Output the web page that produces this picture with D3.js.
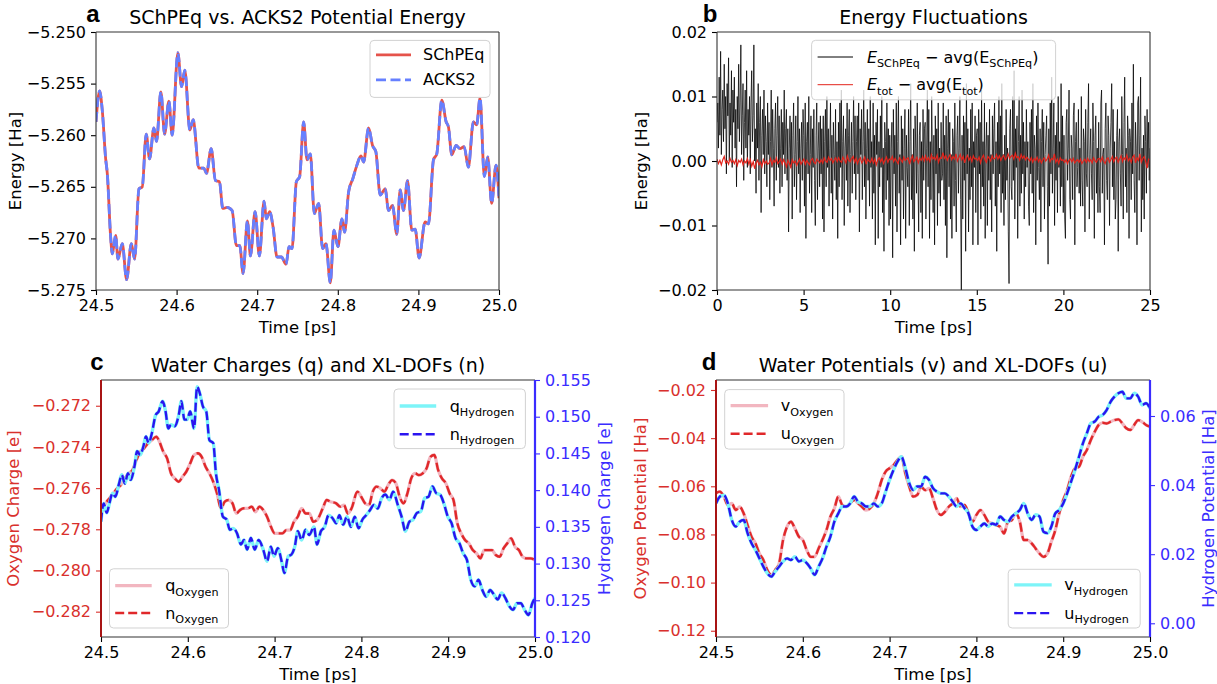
<!DOCTYPE html>
<html>
<head>
<meta charset="utf-8">
<script src="https://cdn.jsdelivr.net/npm/d3@7"></script>
<style>
  body { margin: 0; background: #fff; }
  svg { font-family: "DejaVu Sans", sans-serif; }
</style>
</head>
<body>
<script>
// ---- data: panel a (potential energy, Ha) ----
const timeA = [24.5,24.5045,24.5078,24.512,24.514,24.5182,24.5202,24.5244,24.5272,24.5326,24.538,24.5438,24.5479,24.5533,24.5574,24.5623,24.5665,24.5718,24.5751,24.5805,24.5851,24.5904,24.5945,24.6016,24.6061,24.6102,24.6164,24.6206,24.6276,24.6338,24.6371,24.6429,24.6482,24.6532,24.6573,24.6627,24.6689,24.6742,24.6784,24.6825,24.6879,24.6916,24.6974,24.7027,24.7085,24.7114,24.7155,24.7197,24.7246,24.73,24.7358,24.7395,24.7432,24.7486,24.7527,24.7576,24.7618,24.7659,24.7709,24.7762,24.7812,24.7853,24.7907,24.7952,24.8002,24.8051,24.8084,24.8134,24.8187,24.8237,24.8287,24.832,24.8382,24.8431,24.8472,24.8526,24.8588,24.8629,24.8679,24.8732,24.8774,24.8815,24.8865,24.8918,24.896,24.9009,24.9083,24.9125,24.9187,24.9228,24.929,24.9344,24.9373,24.9414,24.9468,24.9517,24.9567,24.962,24.9682,24.9723,24.9765,24.9818,24.986,24.9909,24.9963,25.0];
const energySChPEq = [-5.2587,-5.2557,-5.2576,-5.2623,-5.2637,-5.2699,-5.2715,-5.2697,-5.272,-5.2705,-5.274,-5.2705,-5.272,-5.2652,-5.265,-5.2599,-5.2623,-5.2593,-5.2606,-5.2558,-5.2599,-5.2567,-5.26,-5.252,-5.2553,-5.2537,-5.2595,-5.2585,-5.2632,-5.2632,-5.2637,-5.2613,-5.2644,-5.2645,-5.2671,-5.267,-5.2673,-5.2707,-5.2707,-5.2734,-5.2683,-5.2717,-5.2674,-5.2717,-5.2664,-5.2681,-5.2674,-5.2689,-5.2718,-5.2718,-5.2725,-5.2708,-5.271,-5.2645,-5.264,-5.2587,-5.2624,-5.2618,-5.2676,-5.2666,-5.271,-5.2705,-5.2743,-5.2692,-5.2708,-5.2681,-5.2694,-5.2655,-5.2642,-5.2629,-5.262,-5.2626,-5.2593,-5.261,-5.2616,-5.2658,-5.2652,-5.2673,-5.2668,-5.2696,-5.2653,-5.2673,-5.2644,-5.2692,-5.2691,-5.2719,-5.2684,-5.2686,-5.2624,-5.2618,-5.2566,-5.2587,-5.2592,-5.2619,-5.261,-5.2613,-5.2611,-5.2631,-5.2587,-5.259,-5.2564,-5.264,-5.2621,-5.2666,-5.2629,-5.2661];
const energyACKS2 = energySChPEq; // the two curves coincide in the figure
const ticksXA = [24.5, 24.6, 24.7, 24.8, 24.9, 25.0];
const ticksYA = [-5.250, -5.255, -5.260, -5.265, -5.270, -5.275];

// ---- data: panel b (fluctuations in mHa, evenly spaced over 0-25 ps) ----
const fluctSChPEq = [
  6,9,2,13,4,17,1,8,11,3,15,5,10,-2,12,7,16,0,9,4,14,-1,11,6,
  13,2,8,-4,10,5,15,3,9,18,1,7,12,-3,6,11,2,14,-1,8,4,10,-2,9,
  14,3,7,18,0,5,-5,9,2,12,-3,6,10,-8,4,8,1,11,-2,7,3,-4,9,1,
  6,-6,3,11,-1,8,2,-7,5,9,-3,4,10,-1,7,-5,2,8,-4,6,1,11,-2,5,
  8,-3,5,-11,2,7,-1,6,-9,4,9,-4,1,7,-6,3,10,-2,5,-8,2,6,-3,8,
  4,-7,9,-12,3,6,-2,10,-5,1,7,-8,5,-1,8,-3,-10,4,9,-6,2,6,-4,7,
  -2,5,-9,7,-11,3,8,-4,10,-1,5,-7,2,9,-5,4,-9,6,1,-3,8,-6,3,-12,
  6,-4,9,-1,11,-6,3,7,-10,2,5,-3,9,-7,4,8,-8,1,6,-5,3,10,-2,7,
  -6,3,7,-2,9,-11,5,1,8,-6,3,11,-4,6,-9,2,8,-3,5,-7,10,-1,3,-9,
  9,-5,4,-13,6,1,8,-12,3,-4,7,-1,10,-8,2,-14,6,3,-6,9,-3,5,-10,4,
  -9,2,6,-15,8,-2,4,-7,9,-11,3,10,-5,1,-13,7,-3,5,-9,2,8,-12,4,-1,
  -4,8,-10,3,12,-6,1,-9,5,-14,7,2,-5,9,-2,-11,4,6,-8,3,-12,8,-3,5,
  6,-9,2,11,-4,8,-12,3,-6,10,1,-8,4,-13,7,-2,5,-10,9,-5,2,-7,6,-3,
  -2,9,-6,4,-10,7,-15,2,8,-4,6,-9,1,-12,5,3,-7,9,-3,-11,4,7,-5,2,
  10,-6,-20,4,-9,7,-3,6,-14,12,-2,5,-11,2,-6,8,-4,9,-13,3,-1,7,-8,4,
  5,-13,8,-2,6,-9,11,-4,3,-7,9,-12,2,6,-10,4,-3,8,-6,1,-11,7,-2,5,
  9,-7,3,-14,6,-4,10,-2,7,-8,12,-5,1,-10,4,-6,8,-3,2,-11,-19,5,8,-4,
  -6,10,-3,14,-9,5,-1,7,-12,3,10,-7,4,-5,11,-2,6,-9,3,-4,8,-1,3,-7,
  -10,6,-2,8,-5,12,-8,4,2,-13,7,-3,9,-1,-6,5,-11,3,8,-4,6,-9,1,4,
  7,-4,-16,5,-7,9,-2,13,-5,2,9,-10,4,-3,6,-8,10,-1,3,-7,12,-4,7,-8,
  4,-9,-12,6,8,-3,2,11,-6,-9,4,2,-6,7,9,-13,3,6,-4,-1,8,-5,2,-7,
  10,-3,-7,5,3,-11,8,-2,-4,6,12,-9,1,5,-2,-6,9,3,-12,4,7,-5,2,-8,
  6,-4,-8,9,11,-5,1,2,-13,5,9,-3,-6,7,4,-10,2,6,12,-4,8,-6,3,-9,
  -6,4,8,-14,3,5,-2,-7,10,1,-9,6,13,-4,2,-8,7,4,-12,5,3,-6,9,-2,
  15,-3,-8,6,2,-13,9,10,-3,4,13,-11,2,-6,4,-9,7,3,-5,8,-1,6,-3,2
];
const fluctTotal = [
  0.3,-0.4,0.1,-0.6,0.2,0.7,-0.3,0.0,-0.5,0.4,-0.2,0.1,
  -0.4,0.2,-0.7,0.1,-0.2,0.3,-0.6,0.0,-0.3,0.4,-0.5,0.2,
  -0.8,-0.1,-1.2,-0.3,0.1,-0.6,-0.2,-0.9,0.2,-0.4,0.0,-0.5,
  -0.3,0.4,-0.6,0.1,-0.2,0.5,-0.4,-0.1,0.3,-0.5,0.2,-0.3,
  -0.9,0.1,-0.4,-1.0,0.2,-0.3,0.0,-0.7,-0.2,0.3,-0.5,-0.1,
  0.3,-0.5,0.1,-0.3,-0.6,0.2,0.4,-0.2,-0.4,0.3,0.0,-0.3,
  0.2,-0.3,0.5,0.0,-0.2,0.6,0.1,0.4,-0.3,0.2,0.5,-0.1,
  0.5,0.0,-0.2,0.6,0.2,-0.3,0.8,0.1,-0.1,0.4,0.7,-0.2,
  0.4,-0.4,0.2,0.5,-0.3,0.1,0.6,-0.5,0.3,0.0,-0.2,0.4,
  -0.3,0.3,-0.6,0.2,0.5,-0.1,0.4,-0.4,0.1,0.6,-0.2,0.3,
  0.2,0.7,-0.1,0.4,0.0,-0.4,0.5,0.2,-0.2,0.6,0.1,0.3,
  0.5,-0.5,0.3,0.8,-0.1,0.2,0.6,-0.3,0.4,0.1,0.7,0.0,
  0.8,0.1,0.5,-0.1,1.0,0.3,0.6,0.2,0.9,-0.2,0.5,0.4,
  1.3,0.4,0.8,0.1,0.6,1.0,0.2,0.7,0.3,1.1,0.0,0.5,
  1.0,0.2,0.7,-0.3,0.5,0.9,0.1,0.6,-0.1,0.8,0.3,0.4,
  0.1,0.6,-0.3,0.5,0.9,0.2,-0.2,0.7,0.4,0.0,0.8,0.3,
  0.4,1.0,0.3,0.8,0.1,0.6,0.9,0.2,0.5,1.1,0.4,0.7,
  0.9,0.3,1.2,0.5,0.7,0.1,1.0,0.4,0.8,0.2,0.6,0.3,
  0.0,0.5,-0.2,0.4,0.1,0.6,-0.1,0.3,-0.3,0.2,0.5,0.0,
  0.3,0.9,-0.1,0.4,0.2,1.1,-0.2,0.3,-0.4,0.5,0.1,0.2,
  -0.2,0.2,-0.4,0.1,0.3,-0.1,0.4,-0.3,0.0,0.2,-0.2,0.3,
  -0.4,0.0,0.3,-0.2,0.4,-0.1,0.2,-0.3,0.5,0.1,-0.2,0.3,
  0.4,-0.1,0.6,0.0,-0.4,0.3,0.5,-0.2,0.2,0.7,-0.1,0.4,
  0.6,-0.2,0.3,0.8,-0.1,0.5,0.2,0.9,0.0,0.4,-0.2,0.6,
  0.9,-0.3,0.5,0.1,1.1,-0.2,0.4,0.7,-0.1,-1.1,0.3,0.2
];
const ticksXB = [0, 5, 10, 15, 20, 25];
const ticksYB = [-0.02, -0.01, 0.00, 0.01, 0.02];

// ---- data: panel c (charges, e) ----
const timeCH = [24.5,24.5031,24.5066,24.5097,24.5133,24.5164,24.5208,24.5239,24.5275,24.531,24.5341,24.5385,24.5416,24.5452,24.5487,24.5518,24.5549,24.5585,24.5629,24.5664,24.5709,24.5744,24.5775,24.5806,24.585,24.5895,24.5926,24.5961,24.5992,24.6027,24.6072,24.6107,24.6138,24.6174,24.6213,24.6249,24.6293,24.6324,24.636,24.6404,24.6448,24.6484,24.6523,24.6568,24.6612,24.6647,24.6683,24.6727,24.6771,24.6816,24.6869,24.6913,24.6957,24.6993,24.7037,24.7081,24.7112,24.7157,24.7192,24.7232,24.7267,24.7312,24.7356,24.74,24.7453,24.7489,24.7533,24.7577,24.7622,24.7666,24.771,24.7746,24.779,24.7834,24.7879,24.7923,24.7967,24.8012,24.8056,24.81,24.8144,24.8189,24.8233,24.8277,24.8322,24.8366,24.8419,24.8463,24.8508,24.8552,24.8596,24.864,24.8685,24.8729,24.8773,24.8818,24.8862,24.8906,24.895,24.8995,24.9039,24.9083,24.9128,24.9172,24.9216,24.926,24.9305,24.9349,24.9393,24.9438,24.9482,24.9526,24.957,24.9615,24.9659,24.9703,24.9748,24.9792,24.9836,24.988,24.9925,24.9969,25.0];
const nHydrogen = [0.1357,0.1382,0.1369,0.1382,0.1396,0.1391,0.1409,0.1421,0.1409,0.1423,0.1414,0.1432,0.1453,0.1448,0.1459,0.1473,0.1464,0.1477,0.1502,0.1507,0.1521,0.1507,0.1484,0.1489,0.1487,0.1502,0.1521,0.1496,0.1496,0.1507,0.1484,0.1541,0.1532,0.1514,0.1507,0.1468,0.1464,0.1423,0.14,0.1364,0.136,0.1346,0.1348,0.1341,0.1326,0.1332,0.1319,0.1335,0.1319,0.1332,0.1319,0.1303,0.1323,0.131,0.1321,0.1303,0.1287,0.131,0.1312,0.1323,0.1344,0.1332,0.1346,0.1339,0.135,0.1326,0.1344,0.135,0.1366,0.1362,0.1355,0.1366,0.1353,0.1364,0.135,0.1364,0.1348,0.136,0.1366,0.1373,0.138,0.1375,0.1389,0.1394,0.1387,0.1398,0.138,0.1364,0.1344,0.1357,0.136,0.1369,0.1371,0.1389,0.1391,0.1405,0.1396,0.1394,0.1382,0.1364,0.1355,0.1335,0.1328,0.1314,0.1305,0.1278,0.1269,0.1278,0.1264,0.1255,0.1264,0.1258,0.1251,0.126,0.1253,0.1242,0.1237,0.1246,0.1246,0.1237,0.123,0.1246,0.1253];
const qHydrogen = nHydrogen;
const timeCO = [24.5,24.5053,24.5097,24.5142,24.5186,24.523,24.5275,24.5319,24.5363,24.5408,24.5452,24.5496,24.554,24.5585,24.5638,24.5673,24.5717,24.5762,24.5806,24.585,24.5895,24.5939,24.5983,24.6027,24.6072,24.6116,24.616,24.6205,24.6249,24.6293,24.6337,24.6382,24.6426,24.647,24.6515,24.6559,24.6603,24.6647,24.6692,24.6736,24.678,24.6825,24.6869,24.6913,24.6957,24.7002,24.7046,24.709,24.7135,24.7179,24.7223,24.7267,24.7312,24.7356,24.74,24.7445,24.7489,24.7555,24.76,24.7644,24.771,24.7755,24.7799,24.7843,24.7887,24.7954,24.7998,24.8043,24.8087,24.8131,24.8175,24.822,24.8264,24.8308,24.8353,24.8397,24.8441,24.8485,24.853,24.8574,24.8618,24.8663,24.8707,24.8751,24.8795,24.884,24.8884,24.8928,24.8973,24.9017,24.9061,24.9105,24.915,24.9194,24.9238,24.9283,24.9327,24.9371,24.9415,24.946,24.9504,24.9548,24.9593,24.9637,24.9681,24.9725,24.977,24.9814,24.9858,24.9903,24.9947,25.0];
const nOxygen = [-0.27723,-0.27674,-0.2765,-0.27626,-0.27601,-0.27585,-0.27553,-0.27528,-0.27512,-0.27464,-0.27423,-0.27407,-0.27383,-0.27367,-0.2735,-0.27375,-0.27423,-0.27456,-0.27528,-0.27553,-0.27569,-0.27545,-0.2752,-0.2748,-0.27439,-0.27431,-0.27448,-0.27496,-0.27528,-0.27569,-0.27626,-0.27698,-0.27666,-0.27658,-0.27674,-0.27723,-0.27706,-0.27698,-0.27698,-0.2769,-0.27715,-0.2769,-0.27706,-0.27739,-0.27787,-0.2782,-0.2782,-0.2782,-0.27804,-0.27804,-0.27763,-0.27739,-0.27698,-0.27723,-0.27723,-0.27763,-0.27755,-0.27698,-0.27658,-0.27666,-0.27674,-0.2769,-0.27682,-0.27723,-0.27698,-0.27617,-0.27642,-0.27674,-0.27682,-0.27617,-0.27593,-0.27601,-0.27617,-0.27585,-0.27561,-0.27577,-0.27642,-0.27674,-0.27626,-0.27553,-0.27528,-0.27537,-0.27528,-0.27504,-0.27448,-0.27439,-0.27512,-0.27553,-0.27577,-0.27626,-0.27658,-0.27771,-0.2782,-0.27852,-0.27868,-0.27901,-0.27917,-0.27941,-0.27901,-0.27901,-0.27901,-0.27925,-0.27933,-0.27893,-0.27868,-0.27844,-0.27885,-0.27901,-0.27933,-0.27941,-0.27941,-0.27949];
const qOxygen = nOxygen;
const ticksXC = [24.5, 24.6, 24.7, 24.8, 24.9, 25.0];
const ticksOxC = [-0.272, -0.274, -0.276, -0.278, -0.280, -0.282];
const ticksHyC = [0.120, 0.125, 0.130, 0.135, 0.140, 0.145, 0.150, 0.155];

// ---- data: panel d (potentials, Ha, evenly spaced 24.5-25.0 ps) ----
const uHydrogen = [0.0347,0.0367,0.0371,0.0347,0.0299,0.028,0.0294,0.0299,0.0261,0.0232,0.0212,0.0188,0.0164,0.0145,0.0135,0.015,0.0164,0.0179,0.0188,0.0183,0.0193,0.0179,0.0183,0.0174,0.0159,0.014,0.0164,0.0188,0.0222,0.0251,0.0294,0.0318,0.0338,0.0338,0.0347,0.0367,0.0352,0.0347,0.0338,0.0338,0.0347,0.0338,0.0347,0.0381,0.0415,0.0444,0.0468,0.0482,0.0449,0.0405,0.0386,0.0396,0.0396,0.0424,0.0415,0.0391,0.0381,0.0376,0.0376,0.0367,0.0352,0.0338,0.0347,0.0333,0.0318,0.028,0.027,0.028,0.0289,0.028,0.0289,0.0285,0.0309,0.0299,0.0294,0.0309,0.0318,0.0328,0.0347,0.0318,0.0299,0.0314,0.0309,0.0265,0.0261,0.028,0.0318,0.0328,0.0347,0.0376,0.041,0.0444,0.0482,0.0521,0.055,0.0579,0.0584,0.0598,0.0603,0.0617,0.0641,0.0656,0.0666,0.067,0.0651,0.0651,0.0666,0.0656,0.0632,0.0637,0.0622];
const vHydrogen = uHydrogen;
const uOxygen = [-0.0629,-0.0622,-0.0643,-0.0678,-0.0671,-0.0699,-0.0685,-0.0712,-0.0761,-0.0809,-0.0837,-0.0879,-0.0906,-0.0948,-0.0969,-0.0948,-0.092,-0.0823,-0.0768,-0.0747,-0.0775,-0.0809,-0.0823,-0.0865,-0.0893,-0.0893,-0.0858,-0.0823,-0.0782,-0.0726,-0.0692,-0.0643,-0.0678,-0.0685,-0.0671,-0.0657,-0.0671,-0.0685,-0.0699,-0.0692,-0.0671,-0.0629,-0.0574,-0.0539,-0.0525,-0.0512,-0.0491,-0.0477,-0.0546,-0.0602,-0.0643,-0.0636,-0.0602,-0.0616,-0.0609,-0.065,-0.0699,-0.0719,-0.0706,-0.0685,-0.0671,-0.065,-0.0685,-0.0678,-0.0712,-0.0747,-0.0719,-0.0699,-0.0719,-0.0747,-0.0754,-0.0761,-0.0768,-0.0796,-0.0747,-0.074,-0.0712,-0.0747,-0.0823,-0.0823,-0.0837,-0.0858,-0.0879,-0.0893,-0.0879,-0.083,-0.0782,-0.0712,-0.0657,-0.0616,-0.056,-0.0525,-0.0519,-0.0477,-0.0449,-0.0408,-0.0373,-0.0345,-0.0336,-0.0339,-0.0332,-0.0325,-0.0322,-0.0339,-0.0359,-0.0366,-0.0345,-0.0325,-0.0332,-0.0345,-0.0352];
const vOxygen = uOxygen;
const ticksXD = [24.5, 24.6, 24.7, 24.8, 24.9, 25.0];
const ticksOxD = [-0.02, -0.04, -0.06, -0.08, -0.10, -0.12];
const ticksHyD = [0.00, 0.02, 0.04, 0.06];

// ---- colours ----
const RED_AX = "#d9302c", BLUE_AX = "#3a2cff";
const C_SCH = "#e5534b", C_ACKS = "#6680ff";
const C_QO = "#f2b6c0", C_NO = "#e0282a", C_QH = "#7df4f8", C_NH = "#2a14f0";

const svg = d3.select("body").append("svg")
  .attr("width", 1217)
  .attr("height", 684);

const fmt1 = d3.format(".1f"), fmt2 = d3.format(".2f"), fmt3 = d3.format(".3f"), fmt0 = d3.format("d");
let clipCount = 0;

function addPanel(box) {
  const g = svg.append("g").attr("transform", `translate(${box.left},${box.top})`);
  const id = "clip" + clipCount++;
  g.append("clipPath").attr("id", id)
    .append("rect").attr("width", box.width).attr("height", box.height);
  const plot = g.append("g").attr("clip-path", `url(#${id})`);
  return { g, plot, box };
}

function tidy(ax, color) {
  ax.attr("font-family", null).attr("font-size", 16);
  ax.select(".domain").remove();
  ax.selectAll(".tick line").attr("stroke", color).attr("stroke-width", 1.1);
  ax.selectAll(".tick text").attr("fill", color);
}

function spine(g, x1, y1, x2, y2, color, w) {
  g.append("line").attr("x1", x1).attr("y1", y1).attr("x2", x2).attr("y2", y2)
    .attr("stroke", color).attr("stroke-width", w);
}

function drawLine(plot, xs, ys, x, y, color, width, dash) {
  const pts = d3.zip(xs, ys);
  plot.append("path")
    .datum(pts)
    .attr("fill", "none")
    .attr("stroke", color)
    .attr("stroke-width", width)
    .attr("stroke-dasharray", dash || null)
    .attr("stroke-linejoin", "round")
    .attr("d", d3.line().x(d => x(d[0])).y(d => y(d[1])).curve(d3.curveMonotoneX));
}

function richText(t, parts, size) {
  let down = false;
  parts.forEach(p => {
    const s = t.append("tspan").text(p.t);
    if (p.it) s.attr("font-style", "italic");
    if (p.sub) {
      s.attr("font-size", size * 0.7);
      if (!down) s.attr("dy", size * 0.28);
      down = true;
    } else if (down) {
      s.attr("dy", -size * 0.28);
      down = false;
    }
  });
}

function legend(g, L) {
  const lg = g.append("g").attr("transform", `translate(${L.x},${L.y})`);
  lg.append("rect").attr("width", L.w).attr("height", L.h).attr("rx", 4)
    .attr("fill", "#fff").attr("fill-opacity", 0.8)
    .attr("stroke", "#d2d2d2").attr("stroke-width", 1);
  L.items.forEach((it, i) => {
    const cy = L.rows[i];
    lg.append("line")
      .attr("x1", L.sample[0]).attr("x2", L.sample[1])
      .attr("y1", cy).attr("y2", cy)
      .attr("stroke", it.color).attr("stroke-width", it.width)
      .attr("stroke-dasharray", it.dash || null);
    const t = lg.append("text").attr("x", L.textX).attr("y", cy).attr("dy", "0.35em")
      .attr("font-size", 16).attr("fill", "#000");
    richText(t, it.parts, 16);
  });
}

function text(x, y, str, opt = {}) {
  const t = svg.append("text")
    .attr("x", x).attr("y", y)
    .attr("text-anchor", opt.anchor || "middle")
    .attr("font-size", opt.size || 16.5)
    .attr("fill", opt.color || "#000");
  if (opt.rotate) t.attr("transform", `rotate(-90,${x},${y})`).attr("dy", "0.35em");
  if (opt.family) t.attr("font-family", opt.family);
  if (opt.weight) t.attr("font-weight", opt.weight);
  t.text(str);
  return t;
}

function frame(P, leftColor, rightColor) {
  const { g, box } = P;
  spine(g, 0, 0, box.width, 0, "#333", 1.1);
  spine(g, 0, box.height, box.width, box.height, "#333", 1.1);
  spine(g, 0, 0, 0, box.height, leftColor || "#333", leftColor ? 2 : 1.1);
  spine(g, box.width, 0, box.width, box.height, rightColor || "#333", rightColor ? 2.2 : 1.1);
}

// ================= panel a =================
const A = addPanel({ left: 96, top: 32, width: 403, height: 258 });
const xA = d3.scaleLinear().domain([24.5, 25.0]).range([0, 403]);
const yA = d3.scaleLinear().domain([-5.275, -5.250]).range([258, 0]);
drawLine(A.plot, timeA, energySChPEq, xA, yA, C_SCH, 2.8);
drawLine(A.plot, timeA, energyACKS2, xA, yA, C_ACKS, 2.8, "10,4.5");
tidy(A.g.append("g").attr("transform", "translate(0,258)")
  .call(d3.axisBottom(xA).tickValues(ticksXA).tickFormat(fmt1).tickSize(5).tickPadding(5)), "#000");
tidy(A.g.append("g")
  .call(d3.axisLeft(yA).tickValues(ticksYA).tickFormat(fmt3).tickSize(5).tickPadding(5)), "#000");
frame(A);
legend(A.g, {
  x: 274, y: 8.4, w: 120, h: 57, rows: [14.4, 39.5], sample: [6, 41], textX: 53,
  items: [
    { parts: [{ t: "SChPEq" }], color: C_SCH, width: 2.8 },
    { parts: [{ t: "ACKS2" }], color: C_ACKS, width: 2.8, dash: "10,4.5" }
  ]
});

// ================= panel b =================
const B = addPanel({ left: 717, top: 32, width: 433, height: 258 });
const xB = d3.scaleLinear().domain([0, 25]).range([0, 433]);
const yB = d3.scaleLinear().domain([-0.02, 0.02]).range([258, 0]);
const timeB1 = fluctSChPEq.map((_, i) => 25 * i / (fluctSChPEq.length - 1));
const timeB2 = fluctTotal.map((_, i) => 25 * i / (fluctTotal.length - 1));
B.plot.append("path")
  .datum(d3.zip(timeB1, fluctSChPEq))
  .attr("fill", "none").attr("stroke", "#000").attr("stroke-width", 0.75)
  .attr("d", d3.line().x(d => xB(d[0])).y(d => yB(d[1] / 1000)));
B.plot.append("path")
  .datum(d3.zip(timeB2, fluctTotal))
  .attr("fill", "none").attr("stroke", "#e3241c").attr("stroke-width", 1.2)
  .attr("d", d3.line().x(d => xB(d[0])).y(d => yB(d[1] / 1000)));
tidy(B.g.append("g").attr("transform", "translate(0,258)")
  .call(d3.axisBottom(xB).tickValues(ticksXB).tickFormat(fmt0).tickSize(5).tickPadding(5)), "#000");
tidy(B.g.append("g")
  .call(d3.axisLeft(yB).tickValues(ticksYB).tickFormat(fmt2).tickSize(5).tickPadding(5)), "#000");
frame(B);
legend(B.g, {
  x: 94.6, y: 8.3, w: 244, h: 59.5, rows: [16.7, 44.4], sample: [6, 41.4], textX: 55.3,
  items: [
    { parts: [{ t: "E", it: 1 }, { t: "SChPEq", sub: 1 }, { t: " − avg(E" }, { t: "SChPEq", sub: 1 }, { t: ")" }], color: "#000", width: 1 },
    { parts: [{ t: "E", it: 1 }, { t: "tot", sub: 1 }, { t: " − avg(E" }, { t: "tot", sub: 1 }, { t: ")" }], color: "#e3241c", width: 1 }
  ]
});

// ================= panel c =================
const Cp = addPanel({ left: 101, top: 380, width: 434, height: 257 });
const xC = d3.scaleLinear().domain([24.5, 25.0]).range([0, 434]);
const yCO = d3.scaleLinear().domain([-0.28323, -0.27075]).range([257, 0]);
const yCH = d3.scaleLinear().domain([0.120, 0.155]).range([257, 0]);
drawLine(Cp.plot, timeCO, qOxygen, xC, yCO, C_QO, 3.2);
drawLine(Cp.plot, timeCO, nOxygen, xC, yCO, C_NO, 2.4, "9,4");
drawLine(Cp.plot, timeCH, qHydrogen, xC, yCH, C_QH, 3.4);
drawLine(Cp.plot, timeCH, nHydrogen, xC, yCH, C_NH, 2.4, "9,4");
tidy(Cp.g.append("g").attr("transform", "translate(0,257)")
  .call(d3.axisBottom(xC).tickValues(ticksXC).tickFormat(fmt1).tickSize(5).tickPadding(5)), "#000");
tidy(Cp.g.append("g")
  .call(d3.axisLeft(yCO).tickValues(ticksOxC).tickFormat(fmt3).tickSize(5).tickPadding(5)), RED_AX);
tidy(Cp.g.append("g").attr("transform", "translate(434,0)")
  .call(d3.axisRight(yCH).tickValues(ticksHyC).tickFormat(fmt3).tickSize(5).tickPadding(5)), BLUE_AX);
frame(Cp, "#a81414", BLUE_AX);
legend(Cp.g, {
  x: 293, y: 9, w: 131.4, h: 59.6, rows: [17, 45.3], sample: [5.7, 42.2], textX: 55.7,
  items: [
    { parts: [{ t: "q" }, { t: "Hydrogen", sub: 1 }], color: C_QH, width: 3.4 },
    { parts: [{ t: "n" }, { t: "Hydrogen", sub: 1 }], color: C_NH, width: 2.4, dash: "9,4" }
  ]
});
legend(Cp.g, {
  x: 8.5, y: 188.8, w: 119, h: 59.2, rows: [16.9, 44.2], sample: [5.7, 42.2], textX: 55.7,
  items: [
    { parts: [{ t: "q" }, { t: "Oxygen", sub: 1 }], color: C_QO, width: 3.2 },
    { parts: [{ t: "n" }, { t: "Oxygen", sub: 1 }], color: C_NO, width: 2.4, dash: "9,4" }
  ]
});

// ================= panel d =================
const D = addPanel({ left: 716, top: 380, width: 434, height: 257 });
const xD = d3.scaleLinear().domain([24.5, 25.0]).range([0, 434]);
const yDO = d3.scaleLinear().domain([-0.1226, -0.01585]).range([257, 0]);
const yDH = d3.scaleLinear().domain([-0.00397, 0.07042]).range([257, 0]);
const timeD = uOxygen.map((_, i) => 24.5 + 0.5 * i / (uOxygen.length - 1));
const timeDH = uHydrogen.map((_, i) => 24.5 + 0.5 * i / (uHydrogen.length - 1));
drawLine(D.plot, timeD, vOxygen, xD, yDO, C_QO, 3.2);
drawLine(D.plot, timeD, uOxygen, xD, yDO, C_NO, 2.4, "9,4");
drawLine(D.plot, timeDH, vHydrogen, xD, yDH, C_QH, 3.4);
drawLine(D.plot, timeDH, uHydrogen, xD, yDH, C_NH, 2.4, "9,4");
tidy(D.g.append("g").attr("transform", "translate(0,257)")
  .call(d3.axisBottom(xD).tickValues(ticksXD).tickFormat(fmt1).tickSize(5).tickPadding(5)), "#000");
tidy(D.g.append("g")
  .call(d3.axisLeft(yDO).tickValues(ticksOxD).tickFormat(fmt2).tickSize(5).tickPadding(5)), RED_AX);
tidy(D.g.append("g").attr("transform", "translate(434,0)")
  .call(d3.axisRight(yDH).tickValues(ticksHyD).tickFormat(fmt2).tickSize(5).tickPadding(5)), BLUE_AX);
frame(D, "#a81414", BLUE_AX);
legend(D.g, {
  x: 8.7, y: 9.6, w: 119.3, h: 59.5, rows: [16, 44.2], sample: [5.9, 43.4], textX: 56.1,
  items: [
    { parts: [{ t: "v" }, { t: "Oxygen", sub: 1 }], color: C_QO, width: 3.2 },
    { parts: [{ t: "u" }, { t: "Oxygen", sub: 1 }], color: C_NO, width: 2.4, dash: "9,4" }
  ]
});
legend(D.g, {
  x: 292.2, y: 189.3, w: 132, h: 58.7, rows: [15.6, 43.8], sample: [6, 43.5], textX: 56.1,
  items: [
    { parts: [{ t: "v" }, { t: "Hydrogen", sub: 1 }], color: C_QH, width: 3.4 },
    { parts: [{ t: "u" }, { t: "Hydrogen", sub: 1 }], color: C_NH, width: 2.4, dash: "9,4" }
  ]
});

// ================= titles, labels, panel letters =================
text(297.5, 24, "SChPEq vs. ACKS2 Potential Energy", { size: 19 });
text(933.5, 24, "Energy Fluctuations", { size: 19 });
text(318, 372, "Water Charges (q) and XL-DOFs (n)", { size: 19 });
text(933, 372, "Water Potentials (v) and XL-DOFs (u)", { size: 19 });

const letterFont = "'Liberation Sans', Arial, sans-serif";
text(93, 21.5, "a", { size: 24, family: letterFont, weight: "bold" });
text(710, 21.5, "b", { size: 24, family: letterFont, weight: "bold" });
text(97, 369.5, "c", { size: 24, family: letterFont, weight: "bold" });
text(709, 369.5, "d", { size: 24, family: letterFont, weight: "bold" });

text(297.5, 333, "Time [ps]");
text(933.5, 333, "Time [ps]");
text(318, 680, "Time [ps]");
text(933, 680, "Time [ps]");

text(15, 161, "Energy [Ha]", { rotate: true });
text(641, 161, "Energy [Ha]", { rotate: true });
text(13.5, 508.5, "Oxygen Charge [e]", { rotate: true, color: RED_AX });
text(604, 508.5, "Hydrogen Charge [e]", { rotate: true, color: BLUE_AX });
text(640, 508.5, "Oxygen Potential [Ha]", { rotate: true, color: RED_AX });
text(1208, 508.5, "Hydrogen Potential [Ha]", { rotate: true, color: BLUE_AX });
</script>
</body>
</html>
